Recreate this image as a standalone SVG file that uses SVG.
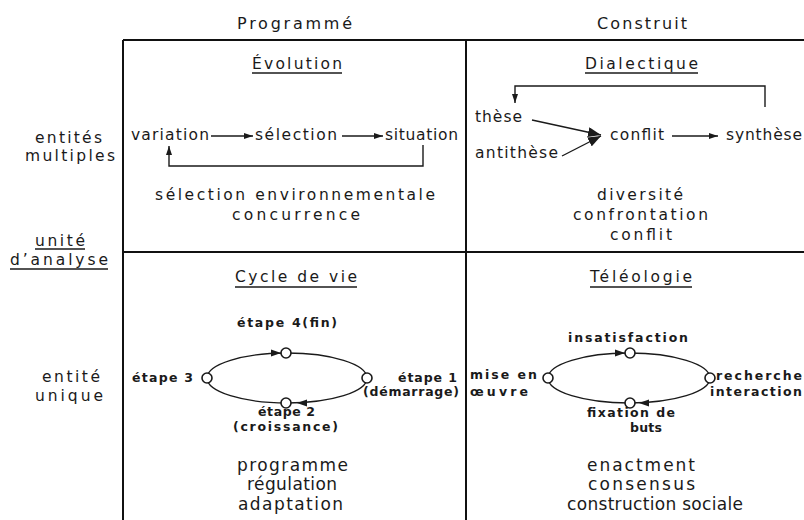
<svg xmlns="http://www.w3.org/2000/svg" width="804" height="520" viewBox="0 0 804 520">
<defs>
<marker id="ah" markerWidth="10" markerHeight="8" refX="9" refY="4" orient="auto" markerUnits="userSpaceOnUse"><path d="M0,1 L9,4 L0,7 Z" fill="#1a1a1a"/></marker>
<marker id="ahb" markerWidth="14" markerHeight="10" refX="13" refY="5" orient="auto" markerUnits="userSpaceOnUse"><path d="M0,0 L13,5 L0,10 Z" fill="#1a1a1a"/></marker>
</defs>
<style>
text{font-family:"DejaVu Sans","Liberation Sans",sans-serif;fill:#1a1a1a;font-size:15.5px}
.h{font-size:16px}
.s{font-size:12.5px;font-weight:bold}
.b{font-size:17px}
.frame{stroke:#111;stroke-width:2;fill:none}
.ul{stroke:#1a1a1a;stroke-width:1.3}
.c{stroke:#1a1a1a;stroke-width:1.4;fill:none}
.n{stroke:#1a1a1a;stroke-width:1.6;fill:#fff}
</style>
<rect width="804" height="520" fill="#fff"/>
<g id="frame">
<line class="frame" x1="123" y1="40" x2="804" y2="40"/>
<line class="frame" x1="123" y1="40" x2="123" y2="520"/>
<line class="frame" x1="466" y1="40" x2="466" y2="520"/>
<line class="frame" x1="123" y1="252" x2="804" y2="252"/>
</g>
<g id="headers">
<text class="h" x="237" y="29" textLength="115" lengthAdjust="spacing">Programmé</text>
<text class="h" x="597" y="29" textLength="90" lengthAdjust="spacing">Construit</text>
<text x="35" y="143" textLength="67" lengthAdjust="spacing">entités</text>
<text x="25" y="161" textLength="90" lengthAdjust="spacing">multiples</text>
<text x="35" y="246" textLength="50" lengthAdjust="spacing">unité</text>
<line class="ul" x1="35" y1="249" x2="85" y2="249"/>
<text x="10" y="265" textLength="98" lengthAdjust="spacing">d’analyse</text>
<line class="ul" x1="10" y1="269" x2="108" y2="269"/>
<text x="42" y="382" textLength="58" lengthAdjust="spacing">entité</text>
<text x="35" y="401" textLength="68" lengthAdjust="spacing">unique</text>
</g>
<g id="evolution">
<text x="252" y="69" textLength="90" lengthAdjust="spacing">Évolution</text>
<line class="ul" x1="252" y1="73" x2="342" y2="73"/>
<text x="131" y="140" textLength="78" lengthAdjust="spacing">variation</text>
<text x="255" y="140" textLength="82" lengthAdjust="spacing">sélection</text>
<text x="385" y="140" textLength="73" lengthAdjust="spacing">situation</text>
<text x="155" y="200" textLength="280" lengthAdjust="spacing">sélection environnementale</text>
<text x="232" y="220" textLength="128" lengthAdjust="spacing">concurrence</text>
</g>
<g id="dialectique">
<text x="585" y="69" textLength="113" lengthAdjust="spacing">Dialectique</text>
<line class="ul" x1="585" y1="73" x2="698" y2="73"/>
<text x="475" y="122" textLength="47" lengthAdjust="spacing">thèse</text>
<text x="475" y="158" textLength="83" lengthAdjust="spacing">antithèse</text>
<text x="610" y="140" textLength="54" lengthAdjust="spacing">conflit</text>
<text x="726" y="140" textLength="76" lengthAdjust="spacing">synthèse</text>
<text x="597" y="200" textLength="86" lengthAdjust="spacing">diversité</text>
<text x="573" y="220" textLength="135" lengthAdjust="spacing">confrontation</text>
<text x="610" y="240" textLength="62" lengthAdjust="spacing">conflit</text>
</g>
<g id="cycle-de-vie">
<text x="235" y="282" textLength="122" lengthAdjust="spacing">Cycle de vie</text>
<line class="ul" x1="235" y1="287" x2="357" y2="287"/>
<text class="s" x="237" y="327" textLength="100" lengthAdjust="spacing">étape 4(fin)</text>
<text class="s" x="132" y="382" textLength="61" lengthAdjust="spacing">étape 3</text>
<text class="s" x="398" y="382" textLength="59" lengthAdjust="spacing">étape 1</text>
<text class="s" x="363" y="396" textLength="96" lengthAdjust="spacing">(démarrage)</text>
<text class="s" x="258" y="416" textLength="57" lengthAdjust="spacing">étape 2</text>
<text class="s" x="233" y="431" textLength="105" lengthAdjust="spacing">(croissance)</text>
<text class="b" x="237" y="471" textLength="111" lengthAdjust="spacing">programme</text>
<text class="b" x="247" y="490" textLength="90" lengthAdjust="spacing">régulation</text>
<text class="b" x="238" y="510" textLength="105" lengthAdjust="spacing">adaptation</text>
</g>
<g id="teleologie">
<text x="590" y="282" textLength="102" lengthAdjust="spacing">Téléologie</text>
<line class="ul" x1="590" y1="287" x2="692" y2="287"/>
<text class="s" x="568" y="342" textLength="120" lengthAdjust="spacing">insatisfaction</text>
<text class="s" x="470" y="379" textLength="67" lengthAdjust="spacing">mise en</text>
<text class="s" x="470" y="396" textLength="58" lengthAdjust="spacing">œuvre</text>
<text class="s" x="716" y="380" textLength="86" lengthAdjust="spacing">recherche</text>
<text class="s" x="710" y="396" textLength="92" lengthAdjust="spacing">interaction</text>
<text class="s" x="587" y="417" textLength="88" lengthAdjust="spacing">fixation de</text>
<text class="s" x="630" y="432" textLength="32" lengthAdjust="spacing">buts</text>
<text class="b" x="587" y="471" textLength="108" lengthAdjust="spacing">enactment</text>
<text class="b" x="588" y="490" textLength="107" lengthAdjust="spacing">consensus</text>
<text class="b" x="567" y="510" textLength="176" lengthAdjust="spacing">construction sociale</text>
</g>
<g id="connectors">
<line class="c" x1="211" y1="136" x2="253" y2="136" marker-end="url(#ah)"/>
<line class="c" x1="342" y1="136" x2="383" y2="136" marker-end="url(#ah)"/>
<polyline class="c" points="423,145 423,166 169,166 169,146" marker-end="url(#ah)"/>
<polyline class="c" points="765,107 765,86 515,86 515,103" marker-end="url(#ah)"/>
<line class="c" x1="532" y1="120" x2="601" y2="135" marker-end="url(#ahb)"/>
<line class="c" x1="562" y1="156" x2="601" y2="136" marker-end="url(#ahb)"/>
<line class="c" x1="672" y1="136" x2="718" y2="136" marker-end="url(#ah)"/>
<ellipse class="c" cx="287" cy="378" rx="80" ry="25"/>
<path d="M281,353 L271,349.5 L271,356.5 Z" fill="#1a1a1a"/>
<path d="M297,403 L307,399.5 L307,406.5 Z" fill="#1a1a1a"/>
<ellipse class="c" cx="629" cy="378" rx="81" ry="25"/>
<path d="M625,353 L615,349.5 L615,356.5 Z" fill="#1a1a1a"/>
<path d="M639,403 L649,399.5 L649,406.5 Z" fill="#1a1a1a"/>
</g>
<g id="cycle-nodes">
<circle class="n" cx="286" cy="353" r="5"/>
<circle class="n" cx="207" cy="378" r="5"/>
<circle class="n" cx="367" cy="378" r="5"/>
<circle class="n" cx="286" cy="403" r="5"/>
</g>
<g id="teleo-nodes">
<circle class="n" cx="630" cy="353" r="5"/>
<circle class="n" cx="548" cy="378" r="5"/>
<circle class="n" cx="710" cy="378" r="5"/>
<circle class="n" cx="630" cy="403" r="5"/>
</g>
</svg>
